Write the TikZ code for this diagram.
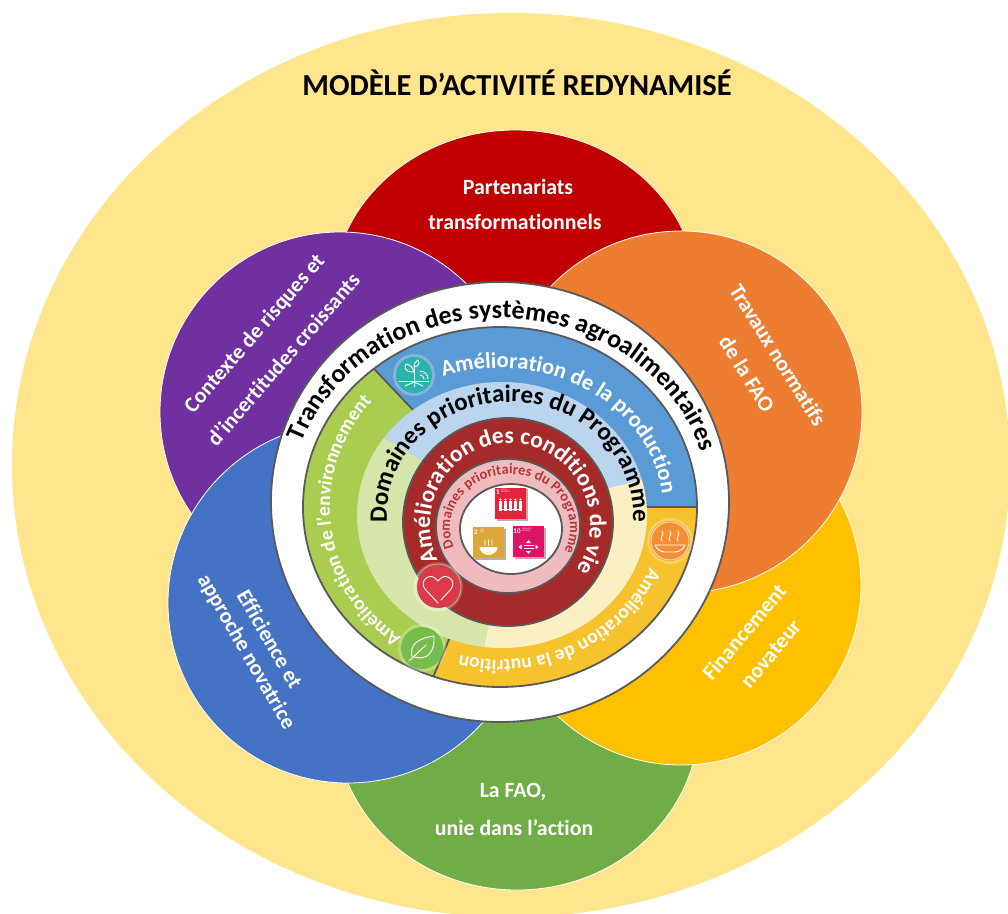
\documentclass[tikz,border=0pt]{standalone}
\usepackage{fontspec}
\setmainfont[Ligatures=NoCommon]{Carlito}
\usepackage{xcolor}
\usetikzlibrary{decorations.text}
\definecolor{bgyellow}{HTML}{FFE58C}
\definecolor{petalred}{HTML}{C00000}
\definecolor{petalorange}{HTML}{ED7D31}
\definecolor{petalpurple}{HTML}{7030A0}
\definecolor{petalamber}{HTML}{FFC000}
\definecolor{petalblue}{HTML}{4472C4}
\definecolor{petalgreen}{HTML}{70AD47}
\definecolor{ringgray}{HTML}{595959}
\definecolor{ringblue}{HTML}{5B9BD5}
\definecolor{ringgreen}{HTML}{A9CC51}
\definecolor{ringyellow}{HTML}{F6C22D}
\definecolor{lightblue}{HTML}{BBD5EE}
\definecolor{lightgreen}{HTML}{D6E5AA}
\definecolor{lightyellow}{HTML}{FDEFC4}
\definecolor{ringred}{HTML}{A52A2A}
\definecolor{ringpink}{HTML}{EFBBBF}
\definecolor{pinktext}{HTML}{B5373A}
\definecolor{iconteal}{HTML}{2BB3AC}
\definecolor{iconorange}{HTML}{F58F35}
\definecolor{iconred}{HTML}{DC3A48}
\definecolor{icongreen}{HTML}{76BD4E}
\tikzset{
  petal/.style={draw=white, line width=0.8pt},
  ringline/.style={draw=ringgray, line width=1.8pt},
  petaltext/.style={text=white, font=\fontsize{21.8}{21.8}\selectfont\bfseries, inner sep=0pt},
  icon/.style={draw=white, line width=0.9pt, line cap=round, line join=round},
  sdg/.style={minimum size=31pt, inner sep=0pt},
  sdgnum/.style={text=white, font=\fontsize{7}{7}\selectfont\bfseries, inner sep=0pt},
  sdgtiny/.style={text=white, font=\fontsize{2}{2}\selectfont, inner sep=0pt, align=left}
}
\newcommand{\ringtext}[7]{\path[decorate,decoration={text along path,text={#7},text align=center}]
  ({#1+#3*cos(#5)},{#2+#4*sin(#5)}) arc[start angle=#5,end angle=#6,x radius=#3,y radius=#4];}
\begin{document}
\begin{tikzpicture}[x=1pt,y=1pt]
\useasboundingbox (0,0) rectangle (1008,-913);
\fill[white] (0,0) rectangle (1008,-913);
\begin{scope}
\clip (0,0) rectangle (1008,-913);
\fill[bgyellow] (511,-465) ellipse[x radius=499, y radius=452];
\end{scope}
\node[font=\fontsize{30.5}{30.5}\selectfont\bfseries, inner sep=0pt] (title) at (517,-83) {MODÈLE D’ACTIVITÉ REDYNAMISÉ};

% petales
\fill[petalred, petal] (515,-297) ellipse[x radius=183, y radius=167];
\fill[petalgreen, petal] (517,-720) ellipse[x radius=182, y radius=170];
\fill[petalpurple, petal] (340,-412) circle (180);
\fill[petalamber, petal] (681,-585) circle (180);
\fill[petalblue, petal] (348,-603) circle (180);
\fill[petalorange, petal] (681,-412) circle (181);

\node[petaltext] (parta) at (518,-187) {Partenariats};
\node[petaltext] (partb) at (515,-222) {transformationnels};
\node[petaltext, rotate=-58] (travaa) at (778,-355) {Travaux normatifs};
\node[petaltext, rotate=-58] (travab) at (747,-374) {de la FAO};
\node[petaltext, rotate=49] (contea) at (255,-334) {Contexte de risques et};
\node[petaltext, rotate=49] (conteb) at (283,-359) {d’incertitudes croissants};
\node[petaltext, rotate=-60] (effia) at (270,-639) {Efficience et};
\node[petaltext, rotate=-60] (effib) at (246,-652) {approche novatrice};
\node[petaltext, rotate=50] (finaa) at (744,-632) {Financement};
\node[petaltext, rotate=50] (finab) at (771,-654) {novateur};
\node[petaltext] (faoa) at (513,-792) {La FAO,};
\node[petaltext] (faob) at (514,-828) {unie dans l’action};

% anneaux
\fill[white, ringline] (500,-502) ellipse[x radius=229, y radius=220];
\begin{scope}
\clip (500,-507) ellipse[x radius=197, y radius=180];
\fill[ringblue] (505,-507) -- (285,-275) -- (285,-300) -- (720,-300) -- (720,-507) -- cycle;
\fill[ringgreen] (505,-507) -- (285,-275) -- (280,-720) -- (415,-720) -- cycle;
\fill[ringyellow] (505,-507) -- (720,-507) -- (720,-720) -- (415,-720) -- cycle;
\draw[ringline] (505,-507) -- (285,-275);
\draw[ringline] (505,-507) -- (720,-507);
\draw[ringline] (505,-507) -- (415,-720);
\end{scope}
\draw[ringline] (500,-507) ellipse[x radius=197, y radius=180];
\begin{scope}
\clip (502,-515) ellipse[x radius=145, y radius=133];
\fill[lightblue] (510,-513) -- (340,-412) -- (340,-370) -- (660,-370) -- (660,-475) -- cycle;
\fill[lightgreen] (510,-513) -- (340,-412) -- (340,-660) -- (482,-660) -- cycle;
\fill[lightyellow] (510,-513) -- (660,-475) -- (660,-660) -- (482,-660) -- cycle;
\end{scope}
\fill[ringred, ringline] (508,-522) ellipse[x radius=105, y radius=104];
\fill[ringpink, ringline] (508,-526) ellipse[x radius=72, y radius=67];
\fill[white, ringline] (511,-529) ellipse[x radius=51, y radius=45];

% textes courbes
\ringtext{500}{-505}{210}{187}{176}{1}{|\fontsize{26}{26}\selectfont\bfseries|Transformation des systèmes agroalimentaires}
\ringtext{500}{-510}{163}{142}{148}{-34}{|\fontsize{22.5}{22.5}\selectfont\bfseries\color{white}|Amélioration de la production}
\ringtext{510}{-515}{123}{113}{190}{-10}{|\fontsize{25}{25}\selectfont\bfseries|Domaines prioritaires du Programme}
\ringtext{510}{-525}{80}{82}{212}{-40}{|\fontsize{23.5}{23.5}\selectfont\bfseries\color{white}|Amélioration des conditions de vie}
\ringtext{510}{-528}{60}{54}{213}{-37}{|\fontsize{14.5}{14.5}\selectfont\bfseries\color{pinktext}|Domaines prioritaires du Programme}
\ringtext{500}{-507}{170}{160}{268}{105}{|\fontsize{19.5}{19.5}\selectfont\bfseries\color{white}|Amélioration de l'environnement}
\ringtext{500}{-507}{163}{153}{15}{-141}{|\fontsize{19.5}{19.5}\selectfont\bfseries\color{white}|Amélioration de la nutrition}

% ODD
\fill[black, opacity=0.3] (497,-489) rectangle (528,-521);
\fill[black, opacity=0.3] (475,-529) rectangle (506,-560);
\fill[black, opacity=0.3] (515,-528) rectangle (546,-559);
\node[sdg, fill={rgb,255:red,229;green,36;blue,59}] (odda) at (510.5,-503) {};
\node[sdg, fill={rgb,255:red,221;green,166;blue,58}] (oddb) at (488.5,-542.5) {};
\node[sdg, fill={rgb,255:red,221;green,19;blue,103}] (oddc) at (528.5,-541.5) {};
\node[sdgnum] (numa) at (498,-492) {1};
\node[sdgnum] (numb) at (476,-532) {2};
\node[sdgnum] (numc) at (517,-531) {10};
\node[sdgtiny, anchor=west] (tinya) at (501,-491) {PAS DE\\PAUVRETÉ};
\node[sdgtiny, anchor=west] (tinyb) at (480,-531) {FAIM\\ZÉRO};
\node[sdgtiny, anchor=west] (tinyc) at (522,-530) {INÉGALITÉS\\RÉDUITES};
% personnages
\foreach \px in {-10,-5,0,5,10} {
  \fill[white] (510.5+\px,-499.5) circle (1.2);
  \fill[white] (509+\px,-501) rectangle (512+\px,-511);
}
\fill[white] (500,-509) rectangle (521,-510);
% bol
\begin{scope}[shift={(488.5,-547)}]
  \fill[white] (-9,0) -- (9,0) arc[start angle=0, end angle=-180, x radius=9, y radius=8] -- cycle;
  \foreach \sx in {-3.5,0,3.5}
    \draw[white, line width=0.7pt] (\sx,1.5) .. controls (\sx-1.5,3) and (\sx+1.5,5) .. (\sx,7.5);
\end{scope}
% fleches
\begin{scope}[shift={(528.5,-547)}]
  \fill[white] (-5,2.5) rectangle (5,0.8);
  \fill[white] (-5,-0.6) rectangle (5,-2.3);
  \fill[white] (-2.5,4) -- (2.5,4) -- (0,7) -- cycle;
  \fill[white] (-2.5,-4) -- (2.5,-4) -- (0,-7) -- cycle;
  \fill[white] (-7,2.5) -- (-7,-2.5) -- (-10,0) -- cycle;
  \fill[white] (7,2.5) -- (7,-2.5) -- (10,0) -- cycle;
\end{scope}

% icones
\begin{scope}[shift={(414,-375)}]
  \fill[white, opacity=0.25] (0,0) circle (21);
  \fill[iconteal] (0,0) circle (18);
  \draw[icon] (-15,-6) -- (15,-6);
  \draw[icon] (0,10) -- (0,-12);
  \draw[icon] (0,3) .. controls (-10,3) and (-10,8) .. (-8,11) .. controls (-4,10) and (-1,8) .. (0,3);
  \draw[icon] (0,8) .. controls (0,12) and (2,14) .. (4,15) .. controls (6,12) and (5,9) .. (0,8);
  \draw[icon] (0,-7) -- (-9,-11);
  \draw[icon] (0,-7) -- (9,-11);
  \draw[icon] (6,0) arc[start angle=90, end angle=0, radius=4];
  \draw[icon] (6,4) arc[start angle=90, end angle=0, radius=8];
\end{scope}
\begin{scope}[shift={(670,-541)}]
  \fill[white, opacity=0.25] (0,0) circle (23);
  \fill[iconorange] (0,0) circle (20);
  \draw[icon, opacity=0.7] (0,0) circle (19);
  \draw[icon] (-15,-4) -- (15,-4) .. controls (13,-9) and (8,-11) .. (5,-11) -- (-5,-11) .. controls (-8,-11) and (-13,-9) .. (-15,-4);
  \foreach \sx in {-8,0,8}
    \draw[icon] (\sx,0) .. controls (\sx-3,4) and (\sx+3,5) .. (\sx,10);
\end{scope}
\begin{scope}[shift={(438,-587)}]
  \fill[white, opacity=0.2] (0,0) circle (25);
  \fill[iconred] (0,0) circle (21);
  \draw[icon, opacity=0.4] (0,0) circle (23);
  \draw[icon] (0,-16) -- (-13,-2) .. controls (-19,6) and (-9,14) .. (-3,9) -- (0,6) -- (3,9) .. controls (9,14) and (19,6) .. (13,-2) -- (3,-13);
\end{scope}
\begin{scope}[shift={(422,-648)}]
  \fill[white, opacity=0.25] (0,0) circle (24);
  \fill[icongreen] (0,0) circle (21);
  \draw[icon] (-10,-9) .. controls (-13,4) and (-3,10) .. (12,12) .. controls (13,-3) and (6,-13) .. (-8,-9);
  \draw[icon] (-13,-13) -- (4,3);
\end{scope}
\end{tikzpicture}
\end{document}
